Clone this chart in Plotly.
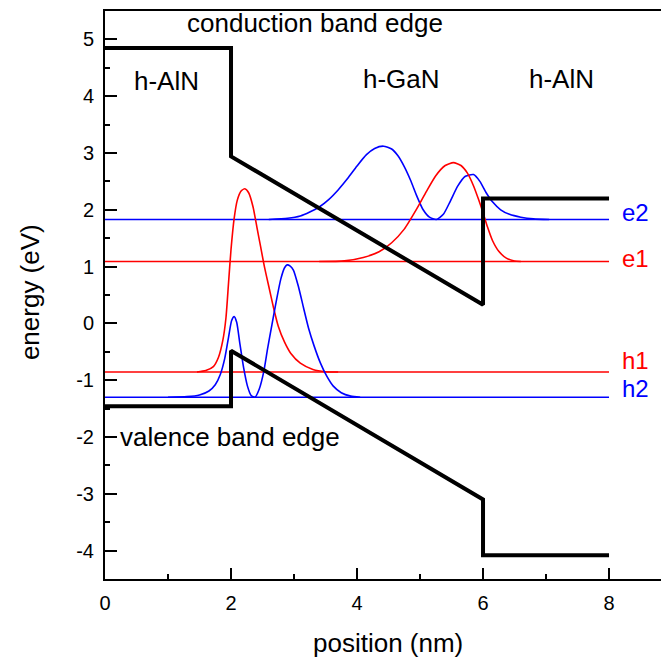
import plotly.graph_objects as go

# Band edges of the h-AlN / h-GaN / h-AlN well (position in nm, energy in eV)
cb_x = [0, 2, 2, 6, 6, 8]
cb_y = [4.85, 4.85, 2.94, 0.33, 2.20, 2.20]
vb_x = [0, 2, 2, 6, 6, 8]
vb_y = [-1.46, -1.46, -0.48, -3.10, -4.08, -4.08]

# Confined state energies
level_names = ["e2", "e1", "h1", "h2"]
level_energy = [1.83, 1.09, -0.855, -1.30]
level_colors = ["#0000ff", "#ff0000", "#ff0000", "#0000ff"]
level_x = [0, 8]

# Probability densities, offset by their state energies
e2_x = [2.60, 2.90, 3.10, 3.25, 3.40, 3.55, 3.70, 3.85, 4.00, 4.15, 4.28, 4.42,
        4.55, 4.65, 4.75, 4.85, 4.95, 5.05, 5.15, 5.26, 5.37, 5.48, 5.60, 5.72,
        5.85, 5.95, 6.05, 6.15, 6.28, 6.42, 6.60, 6.80, 7.05]
e2_y = [1.83, 1.85, 1.89, 1.96, 2.05, 2.18, 2.35, 2.55, 2.77, 2.97, 3.08, 3.12,
        3.07, 2.95, 2.76, 2.52, 2.24, 2.00, 1.87, 1.83, 1.92, 2.15, 2.42, 2.59,
        2.62, 2.50, 2.30, 2.14, 2.00, 1.92, 1.87, 1.84, 1.83]

e1_x = [3.40, 3.80, 4.10, 4.35, 4.55, 4.75, 4.95, 5.10, 5.25, 5.40, 5.53, 5.65,
        5.75, 5.85, 5.93, 6.00, 6.07, 6.15, 6.25, 6.37, 6.50, 6.60]
e1_y = [1.09, 1.10, 1.16, 1.26, 1.42, 1.66, 2.02, 2.32, 2.60, 2.78, 2.83, 2.78,
        2.65, 2.42, 2.18, 1.95, 1.70, 1.46, 1.27, 1.15, 1.10, 1.09]

h1_x = [1.46, 1.60, 1.72, 1.80, 1.87, 1.92, 1.96, 2.00, 2.05, 2.10, 2.16, 2.22,
        2.28, 2.35, 2.41, 2.47, 2.53, 2.60, 2.67, 2.75, 2.85, 2.95, 3.10, 3.30,
        3.50, 3.70]
h1_y = [-0.855, -0.83, -0.76, -0.60, -0.30, 0.10, 0.70, 1.30, 1.85, 2.17, 2.33, 2.37,
        2.30, 2.05, 1.70, 1.35, 1.00, 0.65, 0.30, -0.05, -0.33, -0.53, -0.70, -0.81,
        -0.85, -0.855]

h2_x = [1.00, 1.30, 1.50, 1.65, 1.75, 1.83, 1.90, 1.96, 2.01, 2.05, 2.09, 2.14,
        2.20, 2.26, 2.32, 2.38, 2.45, 2.52, 2.58, 2.65, 2.72, 2.79, 2.85, 2.89,
        2.94, 2.99, 3.07, 3.15, 3.23, 3.32, 3.42, 3.52, 3.62, 3.75, 3.90, 4.05]
h2_y = [-1.30, -1.29, -1.26, -1.19, -1.08, -0.90, -0.62, -0.25, 0.05, 0.12, 0.02, -0.35,
        -0.78, -1.10, -1.27, -1.30, -1.15, -0.85, -0.45, -0.02, 0.40, 0.78, 0.98, 1.03,
        1.01, 0.94, 0.65, 0.28, -0.08, -0.40, -0.70, -0.93, -1.10, -1.22, -1.28, -1.30]

# Text labels
region_labels = ["h-AlN", "h-GaN", "h-AlN"]
region_x = [0.97, 4.71, 7.25]
region_y = [4.26, 4.30, 4.30]

y_ticks = [-4, -3, -2, -1, 0, 1, 2, 3, 4, 5]
y_ticktext = ["-4", "-3", "-2", "-1", "0", "1", "2", "3", "4", "5"]
x_ticks = [0, 2, 4, 6, 8]
x_ticktext = ["0", "2", "4", "6", "8"]

FONT = "Arial, Liberation Sans, sans-serif"

fig = go.Figure()

for name, e, c in zip(level_names, level_energy, level_colors):
    fig.add_trace(go.Scatter(x=level_x, y=[e, e], mode="lines",
                             line=dict(color=c, width=1.4), hoverinfo="skip"))

for xs, ys, c in [(e2_x, e2_y, "#0000ff"), (e1_x, e1_y, "#ff0000"),
                  (h1_x, h1_y, "#ff0000"), (h2_x, h2_y, "#0000ff")]:
    fig.add_trace(go.Scatter(x=xs, y=ys, mode="lines",
                             line=dict(color=c, width=1.6, shape="spline", smoothing=0.6)))

for xs, ys in [(cb_x, cb_y), (vb_x, vb_y)]:
    fig.add_trace(go.Scatter(x=xs, y=ys, mode="lines",
                             line=dict(color="black", width=4)))

annotations = []
for t, x, y in zip(region_labels, region_x, region_y):
    annotations.append(dict(text=t, x=x, y=y, xref="x", yref="y", showarrow=False,
                            font=dict(size=26, color="black", family=FONT)))
annotations.append(dict(text="conduction band edge", x=3.33, y=5.29, xref="x", yref="y",
                        showarrow=False, font=dict(size=26, color="black", family=FONT)))
annotations.append(dict(text="valence band edge", x=1.98, y=-2.0, xref="x", yref="y",
                        showarrow=False, font=dict(size=26, color="black", family=FONT)))
label_y = [1.96, 1.135, -0.66, -1.15]
for name, y, c in zip(level_names, label_y, level_colors):
    annotations.append(dict(text=name, x=8.18, y=y, xref="x", yref="y", xanchor="left",
                            showarrow=False, font=dict(size=24, color=c, family=FONT)))
annotations.append(dict(text="position (nm)", x=0.509, y=-0.113, xref="paper", yref="paper",
                        xanchor="center", yanchor="middle",
                        showarrow=False, font=dict(size=26, color="black", family=FONT)))
annotations.append(dict(text="energy (eV)", x=-0.135, y=0.505, xref="paper", yref="paper",
                        xanchor="center", yanchor="middle", textangle=-90, showarrow=False,
                        font=dict(size=26, color="black", family=FONT)))

fig.update_layout(
    width=661, height=657,
    margin=dict(l=105, r=0, t=11, b=78),
    paper_bgcolor="white", plot_bgcolor="white",
    showlegend=False,
    annotations=annotations,
    font=dict(family=FONT, color="black"),
)
fig.update_xaxes(
    range=[0, 8.825], tickvals=x_ticks, ticktext=x_ticktext, ticks="inside", ticklen=11,
    tickwidth=2, tickcolor="black", showline=True, linewidth=2, linecolor="black",
    mirror=True, showgrid=False, zeroline=False, tickfont=dict(size=20, family=FONT),
    ticklabelstandoff=5,
    minor=dict(tickvals=[1, 3, 5, 7], ticks="inside", ticklen=5, tickwidth=2, tickcolor="black"),
)
fig.update_yaxes(
    range=[-4.5, 5.5], tickvals=y_ticks, ticktext=y_ticktext, ticks="inside",
    ticklen=12, tickwidth=2, tickcolor="black", showline=True, linewidth=2,
    linecolor="black", mirror=False, showgrid=False, zeroline=False,
    tickfont=dict(size=20, family=FONT), ticklabelstandoff=5,
    minor=dict(tickvals=[-3.5, -2.5, -1.5, -0.5, 0.5, 1.5, 2.5, 3.5, 4.5],
               ticks="inside", ticklen=5, tickwidth=2, tickcolor="black"),
)

fig.write_html("out.html")
